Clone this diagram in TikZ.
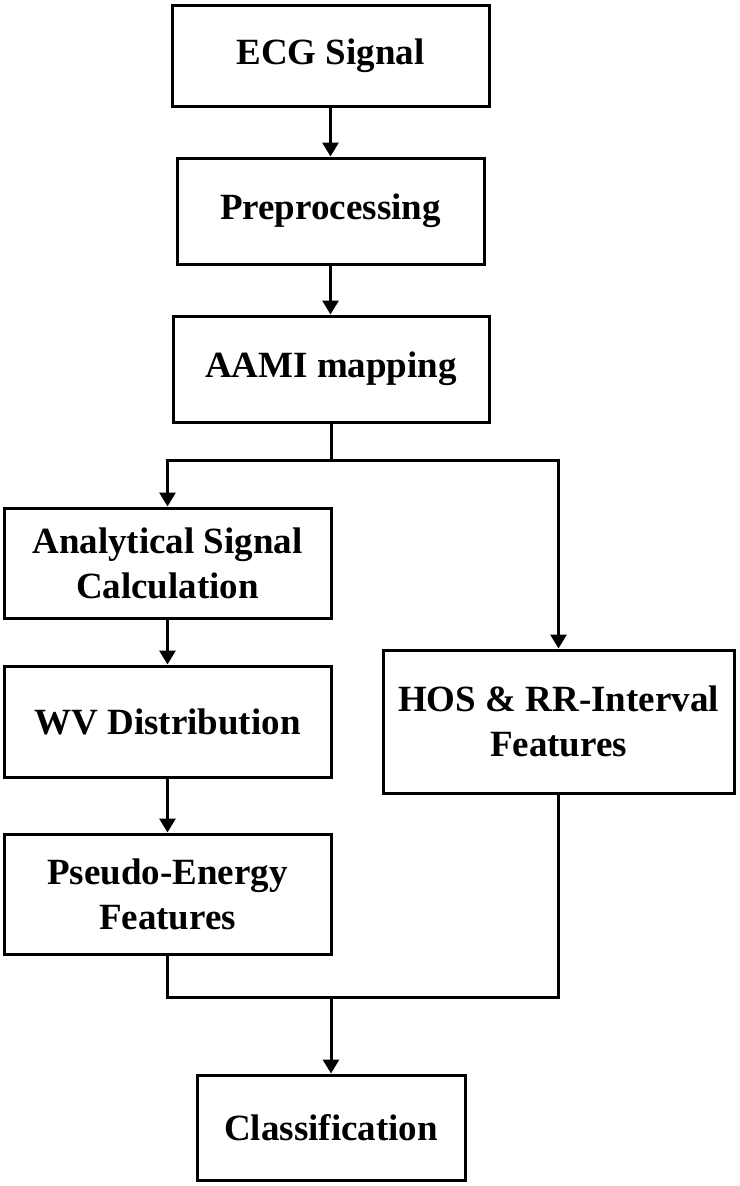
\documentclass[tikz,border=0pt]{standalone}
\usepackage{fontspec}
\setmainfont{Liberation Serif}
\usetikzlibrary{arrows.meta}
\begin{document}
\begin{tikzpicture}[x=1pt,y=-1pt,
  blk/.style={draw, line width=3pt, line join=miter, inner sep=0pt, align=center,
    font=\fontsize{37}{45}\selectfont\bfseries},
  conn/.style={line width=3pt, line join=miter},
  arr/.style={conn, -{Triangle[width=16pt,length=14pt]}}]
\useasboundingbox (0,0) rectangle (739,1186);
\fill[white] (0,0) rectangle (739,1186);
\node[blk, minimum width=317pt, minimum height=101pt] (ecg) at (330.5,55.5) {ECG Signal};
\node[blk, minimum width=307pt, minimum height=106pt] (pre) at (330.5,211) {Preprocessing};
\node[blk, minimum width=316pt, minimum height=106pt] (aami) at (331,369) {AAMI mapping};
\node[blk, minimum width=327pt, minimum height=110pt] (ana) at (167.5,563) {Analytical Signal\\Calculation};
\node[blk, minimum width=327pt, minimum height=111pt] (wv) at (167.5,721.5) {WV Distribution};
\node[blk, minimum width=327pt, minimum height=120pt] (pse) at (167.5,894) {Pseudo-Energy\\Features};
\node[blk, minimum width=351pt, minimum height=143pt] (hos) at (558.5,721.5) {HOS \& RR-Interval\\Features};
\node[blk, minimum width=268pt, minimum height=105pt] (cls) at (331,1127.5) {Classification};
\coordinate (br) at (331,460);
\coordinate (mg) at (331,997);
\draw[arr] (ecg.south) -- (ecg.south |- pre.north);
\draw[arr] (pre.south) -- (pre.south |- aami.north);
\draw[conn] (aami.south) -- (br);
\draw[arr] (br) -| (ana.north);
\draw[arr] (br) -| (hos.north);
\draw[arr] (ana.south) -- (wv.north);
\draw[arr] (wv.south) -- (pse.north);
\draw[conn] (pse.south) |- (mg) -| (hos.south);
\draw[arr] (mg) -- (cls.north);
\end{tikzpicture}
\end{document}
